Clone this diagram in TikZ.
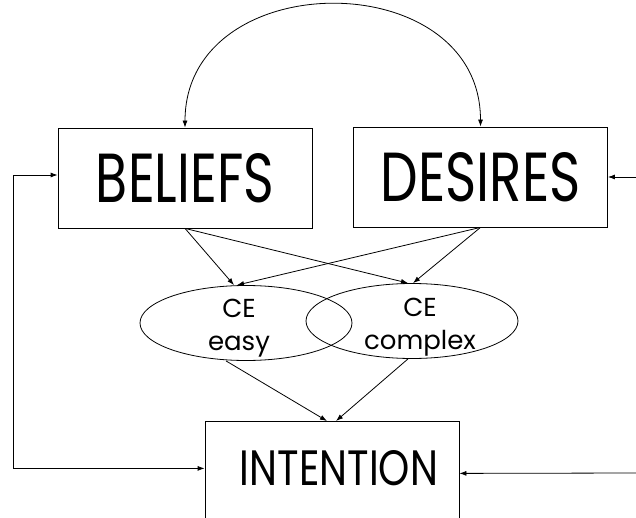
\documentclass[tikz,border=0pt]{standalone}
\usepackage{fontspec}
\usepackage{graphicx}
\setmainfont{Poppins}
\usetikzlibrary{arrows.meta,shapes.geometric}

\begin{document}
\begin{tikzpicture}[x=1pt,y=-1pt,line width=0.8pt,
        >={Latex[length=7pt,width=5pt]},
        state/.style={draw,rectangle,inner sep=0pt,minimum width=254pt,minimum height=100pt},
        ce/.style={draw,ellipse,inner sep=0pt,minimum width=212pt,minimum height=75pt},
        cetext/.style={align=center,font=\fontsize{26}{33}\selectfont}]
    \useasboundingbox (0,0) rectangle (636,518);
    \clip (0,0) rectangle (636,518);
    % the three boxes
    \node[state,text height=49pt,text depth=0pt] (beliefs) at (185,178) {\resizebox{178pt}{49pt}{BELIEFS}};
    \node[state,text height=49pt,text depth=0pt] (desires) at (480.5,177) {\resizebox{200pt}{49pt}{DESIRES}};
    \node[state,anchor=north,text height=64pt,text depth=40pt] (intention) at (332,421) {\hspace*{14pt}\resizebox{198pt}{35pt}{INTENTION}};
    % the two ellipses
    \node[ce,label={[cetext,xshift=-7pt,yshift=-5pt]center:{CE\\easy}}] (easy) at (246,323) {};
    \node[ce,label={[cetext,xshift=8pt,yshift=-6pt]center:{CE\\complex}}] (complex) at (412,321) {};
    \coordinate (inD) at (636,177);
    \coordinate (inI) at (636,473);
    \draw[<->] (beliefs.north) .. controls +(0,-163) and +(0,-163) .. (desires.north);
    \draw[->] (beliefs.south) -- ([xshift=-12pt]easy.north);
    \draw[->] (beliefs.south) -- ([xshift=-4pt]complex.north);
    \draw[->] (desires.south) -- ([xshift=-9pt]easy.north);
    \draw[->] (desires.south) -- ([xshift=1pt]complex.north);
    \draw[->] ([xshift=-20pt]easy.south) -- ([xshift=-5pt]intention.north);
    \draw[->] ([xshift=-4pt]complex.south) -- ([xshift=4pt]intention.north);
    \draw[<->] ([yshift=3pt]beliefs.west) -- ++(-44,0) |- ([yshift=5pt]intention.west);
    \draw[->] (inD) -- (desires.east);
    \draw[->] (inI) -- (intention.east);
\end{tikzpicture}
\end{document}
